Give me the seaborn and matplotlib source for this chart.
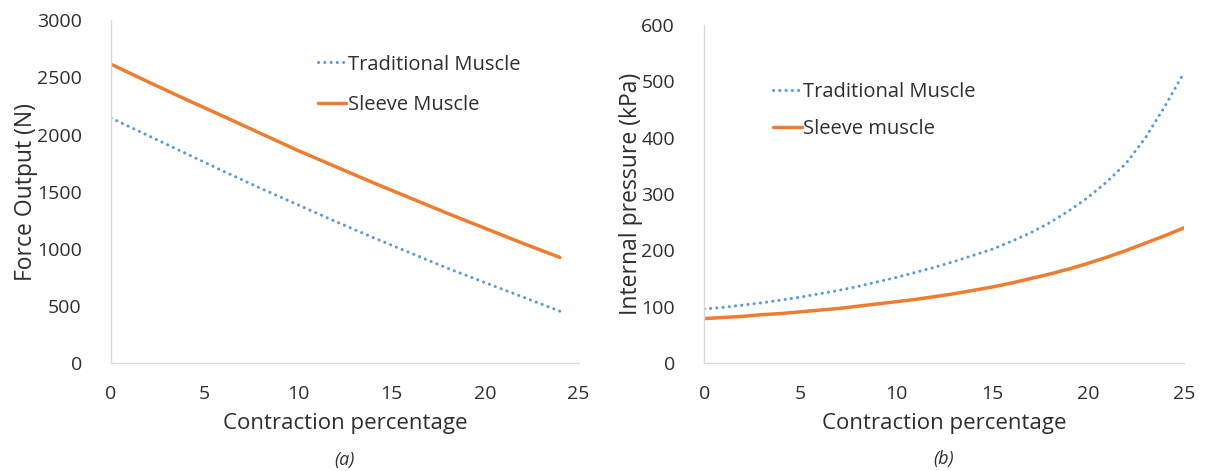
import matplotlib
matplotlib.use("Agg")
import matplotlib.pyplot as plt
import seaborn as sns
import pandas as pd

# Force output vs. contraction
force_x = [0, 2, 4, 6, 8, 10, 12, 14, 16, 18, 20, 22, 24]
force_traditional = [2145, 1990, 1835, 1680, 1530, 1385, 1240, 1100, 965, 830, 705, 580, 455]
force_sleeve = [2615, 2460, 2308, 2160, 2010, 1860, 1720, 1580, 1445, 1310, 1180, 1050, 925]

# Internal pressure vs. contraction
pressure_x = list(range(0, 26))
pressure_traditional = [96, 99, 103, 107, 112, 117, 123, 129, 136, 144, 152, 161, 170,
                        180, 191, 202, 216, 231, 249, 270, 294, 322, 355, 400, 455, 515]
pressure_sleeve = [79, 81, 83, 86, 88, 91, 94, 97, 101, 105, 109, 113, 118,
                   123, 129, 135, 142, 150, 158, 167, 177, 188, 200, 213, 226, 240]

x_ticks = [0, 5, 10, 15, 20, 25]
force_ticks = [0, 500, 1000, 1500, 2000, 2500, 3000]
pressure_ticks = [0, 100, 200, 300, 400, 500, 600]

BLUE = "#5B9BD5"
ORANGE = "#ED7D31"
TEXT = "#2E2E2E"

sns.set_theme(style="white")
plt.rcParams["font.family"] = ["Open Sans", "DejaVu Sans"]

fig = plt.figure(figsize=(12.08, 4.71), dpi=100)
ax1 = fig.add_axes([0.0919, 0.229, 0.387, 0.728])
ax2 = fig.add_axes([0.583, 0.229, 0.397, 0.718])


def draw(ax, x, trad, sleeve, trad_label, sleeve_label):
    df_t = pd.DataFrame({"x": x, "y": trad})
    df_s = pd.DataFrame({"x": x, "y": sleeve})
    sns.lineplot(data=df_t, x="x", y="y", ax=ax, color=BLUE, linewidth=2.2,
                 linestyle=(0, (0.05, 2.0)), dash_capstyle="round",
                 label=trad_label)
    sns.lineplot(data=df_s, x="x", y="y", ax=ax, color=ORANGE, linewidth=2.5,
                 label=sleeve_label)


draw(ax1, force_x, force_traditional, force_sleeve, "Traditional Muscle", "Sleeve Muscle")
draw(ax2, pressure_x, pressure_traditional, pressure_sleeve, "Traditional Muscle", "Sleeve muscle")

for ax, yticks, ylabel, cap in [
    (ax1, force_ticks, "Force Output (N)", "(a)"),
    (ax2, pressure_ticks, "Internal pressure (kPa)", "(b)"),
]:
    ax.set_xlim(0, 25)
    ax.set_ylim(yticks[0], yticks[-1])
    ax.set_xticks(x_ticks)
    ax.set_yticks(yticks)
    ax.tick_params(axis="both", length=0, labelsize=14, colors=TEXT)
    ax.tick_params(axis="x", pad=16)
    ax.tick_params(axis="y", pad=21)
    for side in ["top", "right"]:
        ax.spines[side].set_visible(False)
    for side in ["left", "bottom"]:
        ax.spines[side].set_color("#D9D9D9")
        ax.spines[side].set_linewidth(1.0)
    ax.set_xlabel("Contraction percentage", fontsize=16, color=TEXT, labelpad=7)
    ax.set_ylabel(ylabel, fontsize=16.5, color=TEXT, labelpad=-1)
    ax.text(0.5, -0.283, cap, transform=ax.transAxes, ha="center", va="center",
            fontsize=13, color=TEXT, style="italic")
    ax.grid(False)

ax1.legend(loc="upper left", bbox_to_anchor=(0.443, 0.9), frameon=False,
           borderpad=0, borderaxespad=0, fontsize=14.5, handlelength=1.4,
           handletextpad=0.08, labelspacing=1.0, labelcolor=TEXT)
ax2.legend(loc="upper left", bbox_to_anchor=(0.144, 0.832), frameon=False,
           borderpad=0, borderaxespad=0, fontsize=14.5, handlelength=1.4,
           handletextpad=0.08, labelspacing=0.85, labelcolor=TEXT)

fig.savefig("out.png", dpi=100, facecolor="white")
